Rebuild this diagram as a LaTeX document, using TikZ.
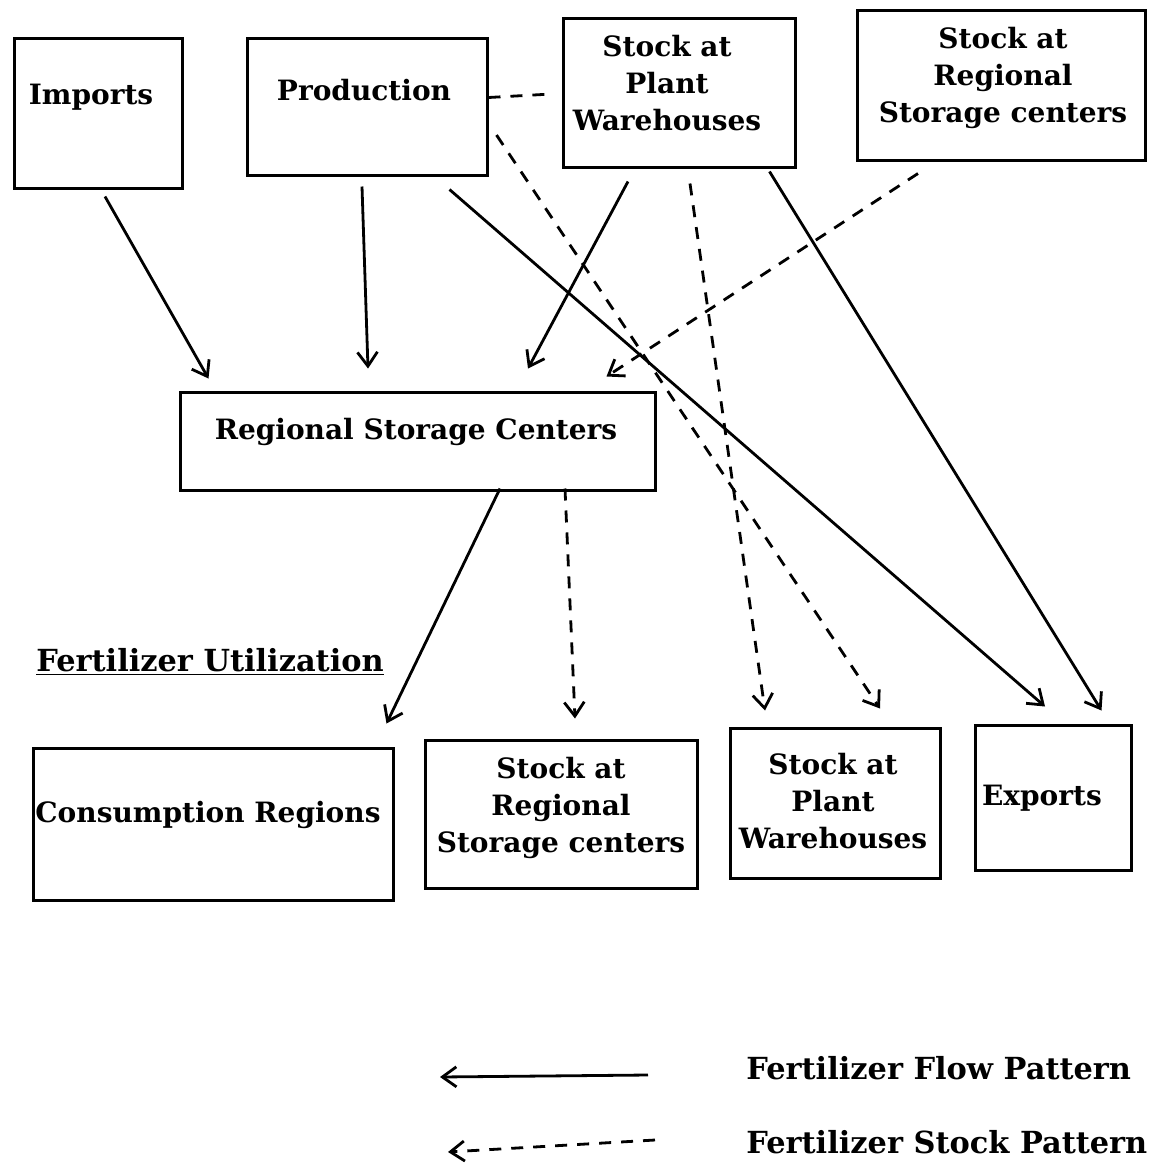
\documentclass[tikz,border=0pt]{standalone}
\usepackage{fontspec}
\setmainfont{DejaVu Serif}[BoldFont=* Bold]
\usetikzlibrary{arrows.meta,calc}
\begin{document}
\begin{tikzpicture}[x=0.5pt,y=-0.5pt,line width=1.4pt,
	box/.style={draw,inner sep=0pt,line width=1.5pt},
	txt/.style={font=\bfseries\fontsize{14}{18.5}\selectfont,align=center,inner sep=0pt},
	widetxt/.style={txt,font=\bfseries\fontsize{15.2}{18.5}\selectfont},
	flow/.style={-{Straight Barb[length=7pt,width=10pt,line width=1.4pt]}},
	stock/.style={flow,dash pattern=on 6pt off 5pt}]

	\useasboundingbox (0,0) rectangle (1155,1164);

	% top row
	\node[box,minimum width=84pt,minimum height=75pt] (imports) at (98,113) {};
	\node[txt] (importstxt) at (91,97) {Imports};
	\node[box,minimum width=120pt,minimum height=68.5pt] (prod) at (367,106.5) {};
	\node[txt] (prodtxt) at (364,90) {Production};
	\node[box,minimum width=116pt,minimum height=74.5pt] (plantT) at (679,92.5) {};
	\node[txt] (plantTtxt) at (667,83) {Stock at\\Plant\\Warehouses};
	\node[box,minimum width=144pt,minimum height=75pt] (regT) at (1001,85) {};
	\node[txt] (regTtxt) at (1003,78) {Stock at\\Regional\\Storage centers};

	% middle
	\node[box,minimum width=237.5pt,minimum height=49pt] (rsc) at (417.5,441) {};
	\node[txt] (rsctxt) at (416,432) {Regional Storage Centers};

	% bottom row
	\node[widetxt,anchor=west] (util) at (35,662) {\underline{Fertilizer Utilization}};
	\node[box,minimum width=180pt,minimum height=76pt] (cons) at (213,824) {};
	\node[txt] (constxt) at (208,815) {Consumption Regions};
	\node[box,minimum width=136pt,minimum height=74pt] (regB) at (561,814) {};
	\node[txt] (regBtxt) at (561,808) {Stock at\\Regional\\Storage centers};
	\node[box,minimum width=105pt,minimum height=75pt] (plantB) at (835,803) {};
	\node[txt] (plantBtxt) at (833,801) {Stock at\\Plant\\Warehouses};
	\node[box,minimum width=78pt,minimum height=72.5pt] (exports) at (1053,797.5) {};
	\node[txt] (exportstxt) at (1042,798) {Exports};

	% flow pattern
	\path[flow] ($(imports.south)+(7,7)$) edge ($(rsc.north west)+(30,-12)$);
	\path[flow] ($(prod.south)+(-5,10)$) edge ($(rsc.north)+(-49.5,-22)$);
	\path[flow] ($(prod.south east)+(-39,13)$) edge ($(exports.north)+(-8,-17)$);
	\path[flow] ($(plantT.south)+(-51,13)$) edge ($(rsc.north)+(110.5,-22)$);
	\path[flow] ($(plantT.south east)+(-27,3)$) edge ($(exports.north east)+(-31,-13)$);
	\path[flow] ($(rsc.south)+(82.5,-3)$) edge ($(cons.north east)+(-8,-23)$);

	% stock pattern
	\draw[dash pattern=on 6pt off 5pt] ($(prod.east)+(0,-9)$) -- ($(plantT.west)+(-10,1.5)$);
	\path[stock] ($(prod.east)+(8,28.5)$) edge ($(plantB.north)+(45,-18)$);
	\path[stock] ($(plantT.south)+(11,15)$) edge ($(plantB.north)+(-70,-16)$);
	\path[stock] ($(regT.south)+(-83,12)$) edge ($(rsc.north east)+(-50,-14)$);
	\path[stock] ($(rsc.south)+(147.5,-3)$) edge ($(regB.north)+(14,-20)$);

	% legend
	\node[widetxt,anchor=west] (flowtxt) at (745,1068) {Fertilizer Flow Pattern};
	\node[widetxt,anchor=west] (stocktxt) at (745,1142) {Fertilizer Stock Pattern};
	\path[flow] ($(flowtxt.west)+(-97,7)$) edge ($(flowtxt.west)+(-305,9)$);
	\path[stock] ($(stocktxt.west)+(-90,-2)$) edge ($(stocktxt.west)+(-297,10)$);

\end{tikzpicture}
\end{document}
